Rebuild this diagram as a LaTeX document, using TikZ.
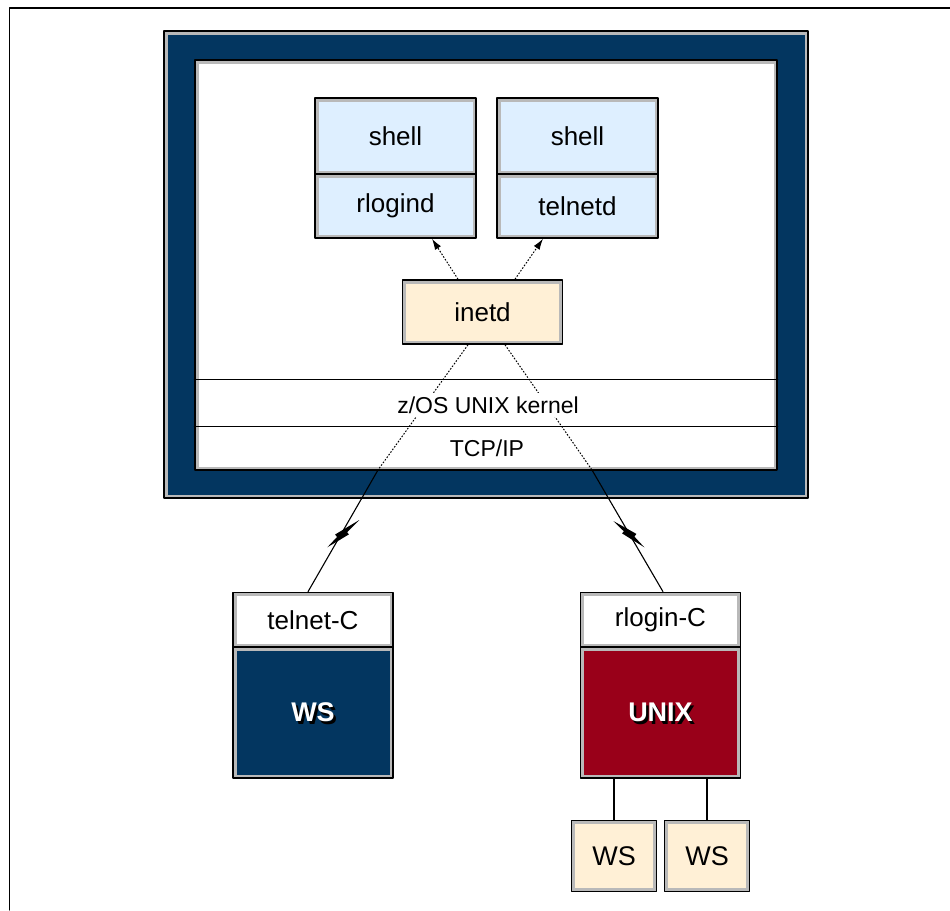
\documentclass[tikz,border=0pt]{standalone}
\usepackage{fontspec}
\setmainfont{Liberation Sans}
\usetikzlibrary{arrows.meta,positioning,calc}
\definecolor{hostnavy}{RGB}{3,54,96}
\definecolor{unixred}{RGB}{153,0,25}
\definecolor{procblue}{RGB}{222,239,255}
\definecolor{inetcream}{RGB}{255,240,214}
\definecolor{bevelgray}{RGB}{185,185,185}
\tikzset{
  bevel/.style={draw=black,line width=1.6pt,inner sep=0pt,
    path picture={\draw[draw=bevelgray,line width=7pt] (path picture bounding box.south west) rectangle (path picture bounding box.north east);}},
  procbox/.style={bevel,fill=procblue,minimum width=161pt,font=\fontsize{26}{30}\selectfont},
  clientbox/.style={bevel,fill=white,minimum width=160pt,minimum height=55pt,font=\fontsize{26}{30}\selectfont},
  hostbox/.style={bevel,minimum width=160pt,minimum height=131pt},
  wsbox/.style={bevel,fill=inetcream,minimum width=85pt,minimum height=71pt,font=\fontsize{27}{30}\selectfont},
  hostlabel/.style={inner sep=0pt,font=\bfseries\fontsize{27}{30}\selectfont},
  layertxt/.style={inner sep=4pt,font=\fontsize{23}{26}\selectfont},
  every picture/.style={line cap=round,line join=round}
}
\begin{document}
\begin{tikzpicture}[x=1pt,y=-1pt,>={Latex[length=11pt,width=7pt]},
  dotline/.style={line width=1pt,line cap=butt,dash pattern=on 1.6pt off 1.6pt},
  link/.style={line width=1.1pt}]
  \useasboundingbox (0,0) rectangle (950,910);
  % page frame
  \draw[line width=1.2pt] (9.5,910) -- (9.5,8) -- (950,8);
  % host
  \node[bevel,fill=hostnavy,minimum width=644pt,minimum height=467pt] (host) at (486,264.5) {};
  \node[bevel,fill=white,minimum width=582pt,minimum height=410pt] (uss) at (486,265) {};
  \coordinate (kerneltop) at (486,379);
  \coordinate (tcptop) at (486,426);
  \draw[line width=0.9pt] (uss.west |- kerneltop) -- (uss.east |- kerneltop);
  \draw[line width=0.9pt] (uss.west |- tcptop) -- (uss.east |- tcptop);
  % processes
  \node[procbox,minimum height=76pt] (shellL) at (395.5,136) {shell};
  \node[procbox,minimum height=64pt] (rlogind) at (395.5,206) {rlogind};
  \node[procbox,minimum height=76pt] (shellR) at (577.5,136) {shell};
  \node[procbox,minimum height=64pt] (telnetd) at (577.5,206) {telnetd};
  \node[procbox,fill=inetcream,minimum width=160pt,minimum height=64pt] (inetd) at (482.5,312) {inetd};
  \draw[->,dotline] ([xshift=-24.5pt]inetd.north) -- ([xshift=36.5pt]rlogind.south);
  \draw[->,dotline] ([xshift=32.5pt]inetd.north) -- ([xshift=-34.5pt]telnetd.south);
  % clients
  \node[clientbox] (telnetC) at (313,620) {telnet-C};
  \node[hostbox,fill=hostnavy] (ws) at (313,712.5) {};
  \node[hostlabel,text=black] (wsshade) at ([shift={(2.5,2.5)}]ws.center) {WS};
  \node[hostlabel,text=white] (wslabel) at (ws.center) {WS};
  \node[clientbox] (rloginC) at (660.5,620) {rlogin-C};
  \node[hostbox,fill=unixred] (unix) at (660.5,712.5) {};
  \node[hostlabel,text=black] (unixshade) at ([shift={(2.5,2.5)}]unix.center) {UNIX};
  \node[hostlabel,text=white] (unixlabel) at (unix.center) {UNIX};
  \node[wsbox] (ws1) at (614,856) {WS};
  \node[wsbox] (ws2) at (707,856) {WS};
  \draw[link] (ws1.north) -- (ws1.north |- unix.south);
  \draw[link] (ws2.north) -- (ws2.north |- unix.south);
  % connections
  \coordinate (lsplit) at (378,470);
  \coordinate (rsplit) at (592,470);
  \coordinate (ltop) at ([xshift=-5pt]telnetC.north);
  \coordinate (rtop) at ([xshift=2.5pt]rloginC.north);
  \draw[dotline] ([xshift=-14.5pt]inetd.south) -- (lsplit);
  \draw[dotline] ([xshift=22.5pt]inetd.south) -- (rsplit);
  \draw[link] (lsplit) -- (ltop);
  \draw[link] (rsplit) -- (rtop);
  % lightning
  \fill (359.3,520) -- (339.5,540.1) -- (335.1,534.5) -- cycle;
  \fill (327.3,547.3) -- (348.9,534.4) -- (344.5,529) -- cycle;
  \fill (613.3,521) -- (632.2,539.5) -- (636.4,533.9) -- cycle;
  \fill (644.3,547.3) -- (622.1,533.4) -- (626.5,528) -- cycle;
  % layers
  \node[layertxt,fill=white] (kernel) at (488,405) {z/OS UNIX kernel};
  \node[layertxt] (tcpip) at (487,448) {TCP/IP};
\end{tikzpicture}
\end{document}
